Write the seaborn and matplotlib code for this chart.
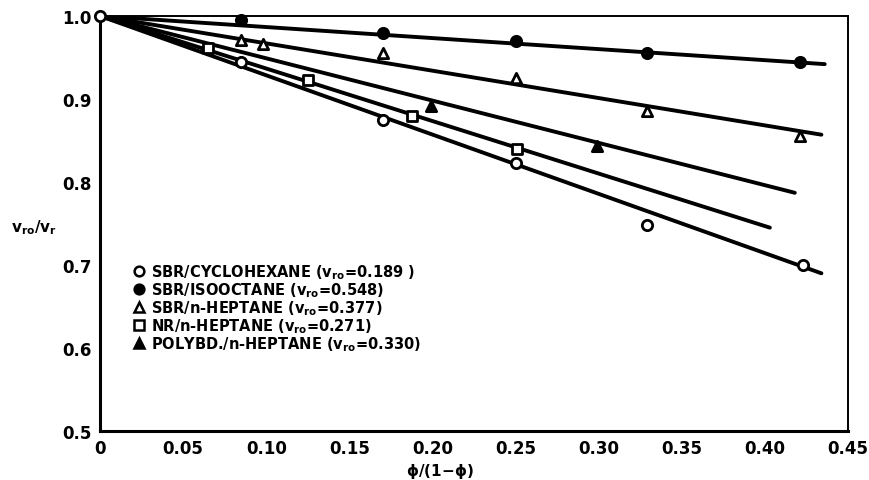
import matplotlib
matplotlib.use("Agg")
import matplotlib.pyplot as plt
import seaborn as sns
import pandas as pd

sns.set_theme(style="white")
plt.rcParams['font.family'] = ['DejaVu Sans']
plt.rcParams['font.weight'] = 'bold'
plt.rcParams['mathtext.default'] = 'bf'
plt.rcParams['text.color'] = 'black'
plt.rcParams['axes.labelcolor'] = 'black'
plt.rcParams['xtick.color'] = 'black'
plt.rcParams['ytick.color'] = 'black'

# ---- data ----
labels = [
    r"SBR/CYCLOHEXANE ($v_{ro}$=0.189 )",
    r"SBR/ISOOCTANE ($v_{ro}$=0.548)",
    r"SBR/n-HEPTANE ($v_{ro}$=0.377)",
    r"NR/n-HEPTANE ($v_{ro}$=0.271)",
    r"POLYBD./n-HEPTANE ($v_{ro}$=0.330)",
]
cyclo_x = [0.0, 0.085, 0.170, 0.250, 0.329, 0.423]
cyclo_y = [1.0, 0.944, 0.875, 0.823, 0.748, 0.700]
iso_x = [0.085, 0.170, 0.250, 0.329, 0.421]
iso_y = [0.995, 0.979, 0.970, 0.956, 0.945]
hep_x = [0.085, 0.098, 0.170, 0.250, 0.329, 0.421]
hep_y = [0.971, 0.966, 0.956, 0.925, 0.885, 0.856]
nr_x = [0.065, 0.125, 0.188, 0.251]
nr_y = [0.962, 0.923, 0.880, 0.840]
pb_x = [0.199, 0.299]
pb_y = [0.891, 0.843]

# fitted lines: start and end points
line_start_x = [0.0, 0.0, 0.0, 0.0, 0.0]
line_start_y = [1.0, 1.0, 1.0, 1.0, 1.0]
line_end_x = [0.434, 0.436, 0.434, 0.403, 0.418]
line_end_y = [0.690, 0.942, 0.857, 0.745, 0.787]

xticks = [0, 0.05, 0.10, 0.15, 0.20, 0.25, 0.30, 0.35, 0.40, 0.45]
xticklabels = ["0", "0.05", "0.10", "0.15", "0.20", "0.25", "0.30", "0.35", "0.40", "0.45"]
yticks = [0.5, 0.6, 0.7, 0.8, 0.9, 1.0]
yticklabels = ["0.5", "0.6", "0.7", "0.8", "0.9", "1.0"]

# ---- figure ----
fig = plt.figure(figsize=(8.7, 4.81), dpi=100)
ax = fig.add_axes([100/870, 49/481, 748/870, 415/481])

# lines
for i in range(5):
    df_line = pd.DataFrame({"x": [line_start_x[i], line_end_x[i]],
                            "y": [line_start_y[i], line_end_y[i]]})
    sns.lineplot(data=df_line, x="x", y="y", ax=ax, color="black",
                 linewidth=2.8, solid_capstyle="round", legend=False,
                 estimator=None, sort=False)

series = [
    (cyclo_x, cyclo_y, "o", "white"),
    (iso_x, iso_y, "o", "black"),
    (hep_x, hep_y, "^", "white"),
    (nr_x, nr_y, "s", "white"),
    (pb_x, pb_y, "^", "black"),
]
handles = []
for (xs, ys, m, fc), lab in zip(series, labels):
    df = pd.DataFrame({"x": xs, "y": ys})
    sns.scatterplot(data=df, x="x", y="y", ax=ax, marker=m, s=55,
                    facecolor=fc, edgecolor="black", linewidth=2.0,
                    zorder=5, clip_on=False)
    h = plt.Line2D([], [], linestyle="none", marker=m, markersize=7,
                   markerfacecolor=fc, markeredgecolor="black",
                   markeredgewidth=1.8)
    handles.append(h)

leg = ax.legend(handles, labels, loc="upper left",
                bbox_to_anchor=(0.035, 0.42), frameon=False,
                fontsize=10.5, handletextpad=0.3, labelspacing=-0.05,
                handlelength=1.0, borderaxespad=0)
for t in leg.get_texts():
    t.set_fontweight("bold")
    t.set_color("black")

ax.set_xlim(0, 0.45)
ax.set_ylim(0.5, 1.0)
ax.set_xticks(xticks)
ax.set_xticklabels(xticklabels, fontsize=12, fontweight="bold")
ax.set_yticks(yticks)
ax.set_yticklabels(yticklabels, fontsize=12, fontweight="bold")
ax.tick_params(axis="both", direction="in", length=6, width=1.5,
               colors="black", pad=6)
ax.tick_params(axis="x", pad=6)

for side in ["left", "bottom"]:
    ax.spines[side].set_linewidth(2.2)
for side in ["top", "right"]:
    ax.spines[side].set_linewidth(1.4)
for s in ax.spines.values():
    s.set_color("black")

ax.set_xlabel(r"$\phi$/(1$-\phi$)", fontsize=11, fontweight="bold")
ax.xaxis.set_label_coords(0.455, -0.072)
ax.set_ylabel(r"$v_{ro}/v_r$", fontsize=11, fontweight="bold", rotation=0)
ax.yaxis.set_label_coords(-0.088, 0.47)

fig.savefig("out.png", dpi=100)
